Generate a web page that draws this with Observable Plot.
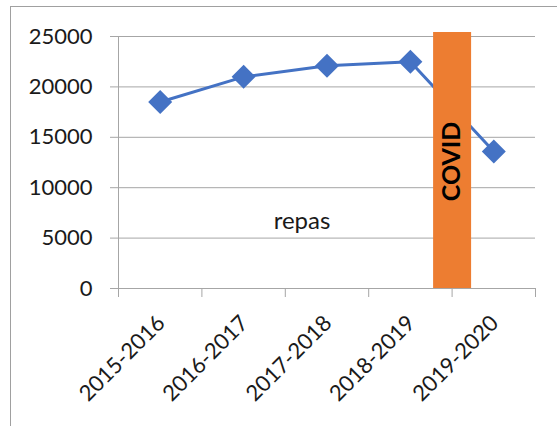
<!DOCTYPE html>
<html>
<head>
<meta charset="utf-8">
<script src="https://cdn.jsdelivr.net/npm/d3@7"></script>
<script src="https://cdn.jsdelivr.net/npm/@observablehq/plot@0.6"></script>
<style>
  html, body { margin: 0; padding: 0; background: #fff; overflow: hidden; }
  #wrap { position: relative; width: 557px; height: 426px; }
  #border { position: absolute; left: 10px; top: 6px; width: 700px; height: 600px;
            border-left: 1px solid #a0a0a0; border-top: 1px solid #a0a0a0; pointer-events: none; }
</style>
</head>
<body>
<div id="wrap"><div id="border"></div></div>
<script>
// ---- data ----
const categories = ["2015-2016", "2016-2017", "2017-2018", "2018-2019", "2019-2020"];
const repas = [18500, 21000, 22100, 22500, 13600];
const yTicks = [0, 5000, 10000, 15000, 20000, 25000];
const seriesName = "repas";
const covidLabel = "COVID";
const covidBetween = ["2018-2019", "2019-2020"];
const covidTop = 25400;

// ---- derived ----
const idx = categories.map((c, i) => i);
const boundaries = d3.range(-0.5, categories.length, 1);
const covidX = d3.mean(covidBetween, c => categories.indexOf(c));
const rows = categories.map((c, i) => ({cat: c, i, value: repas[i]}));

const gray = "#a6a6a6";
const blue = "#4472C4";
const orange = "#ED7D31";
const textColor = "#1a1a1a";

const chart = Plot.plot({
  width: 557,
  height: 426,
  marginLeft: 118,
  marginRight: 22,
  marginTop: 36,
  marginBottom: 138,
  style: {fontFamily: "Lato, 'Open Sans', sans-serif", fontSize: "22px", background: "transparent", overflow: "visible"},
  x: {type: "linear", domain: [-0.5, categories.length - 0.5], axis: null},
  y: {domain: [0, 25000], axis: null},
  marks: [
    Plot.ruleY(yTicks, {stroke: gray, strokeWidth: 1}),
    Plot.ruleX([-0.5], {stroke: gray, strokeWidth: 1}),
    Plot.axisY(yTicks, {tickSize: 8, tickPadding: 18, stroke: gray, fill: textColor,
      fontSize: 22, tickFormat: d => String(d), label: null}),
    Plot.axisX(boundaries, {tickSize: 9, tickFormat: () => "", stroke: gray, label: null}),
    Plot.text(rows, {x: "i", frameAnchor: "bottom", text: "cat", rotate: -45,
      textAnchor: "end", lineAnchor: "bottom", dx: 6, dy: 36, fill: textColor, fontSize: 22}),
    Plot.line(rows, {x: "i", y: "value", stroke: blue, strokeWidth: 3}),
    Plot.dot(rows, {x: "i", y: "value", symbol: "diamond2", r: 10.8, fill: blue, stroke: "none"}),
    Plot.ruleX([covidLabel], {x: () => covidX, y1: () => 0, y2: () => covidTop, stroke: orange, strokeWidth: 38}),
    Plot.text([covidLabel], {x: () => covidX, y: () => 12600, text: d => d, rotate: -90,
      fontWeight: "bold", fontSize: 25, fill: "#000"}),
    Plot.text([seriesName], {x: () => 1.7, y: () => 6700, text: d => d, fontSize: 24, fill: textColor})
  ]
});
chart.style.position = "absolute";
chart.style.left = "0";
chart.style.top = "0";
document.getElementById("wrap").insertBefore(chart, document.getElementById("border"));
</script>
</body>
</html>
